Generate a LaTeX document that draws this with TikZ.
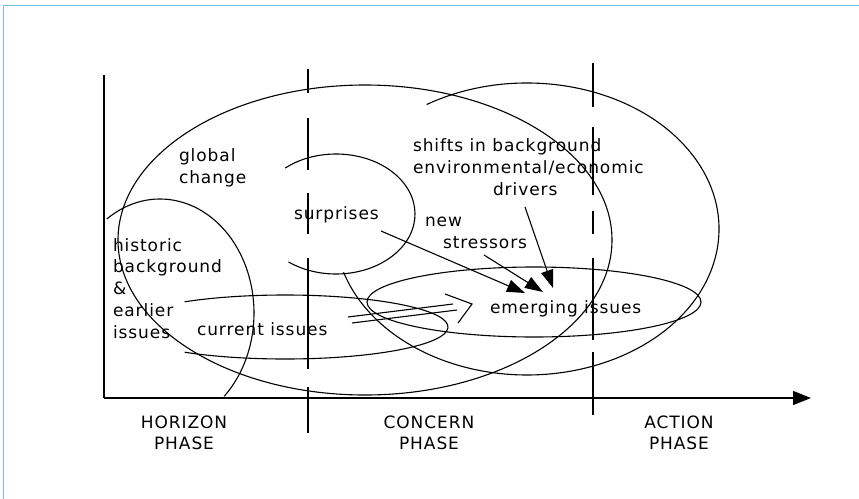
\documentclass[tikz,border=0pt]{standalone}
\usepackage{fontspec}
\setmainfont{DejaVu Sans}[LetterSpace=5.5]
\usetikzlibrary{arrows.meta}
\definecolor{frameblue}{RGB}{112,196,224}
\begin{document}
\begin{tikzpicture}[x=1pt,y=-1pt,
  lbl/.style={font=\fontsize{17}{21.7}\selectfont, inner sep=0pt, outer sep=0pt, align=left},
  phase/.style={font=\fontsize{17}{21}\selectfont, inner sep=0pt, outer sep=0pt, align=center, anchor=base},
  curve/.style={line width=1.1pt, black},
  pointer/.style={line width=1.1pt, black, -{Triangle[length=18pt,width=12.5pt]}},
  axis/.style={line width=1.2pt, black}
]
\useasboundingbox (0,0) rectangle (859,498);
\fill[white] (0,0) rectangle (859,498);
% light blue frame (top and left edges)
\draw[frameblue, line width=1.5pt] (3.5,510) -- (3.5,5.5) -- (870,5.5);

% axes
\coordinate (origin) at (104,398);
\coordinate (ytop) at (104,75);
\coordinate (xend) at (811,398);
\draw[axis] (ytop) -- (origin);
\draw[axis, -{Triangle[length=18pt,width=14pt]}] (origin) -- (xend);

% phase dividers
\coordinate (d1top) at (308,69);
\coordinate (d1bot) at (308,433);
\coordinate (d2top) at (593,63);
\coordinate (d2bot) at (593,415);
\draw[curve, dash pattern=on 24pt off 25pt on 52pt off 23pt on 41pt off 24pt on 111pt off 18pt on 46pt off 10pt] (d1top) -- (d1bot);
\draw[curve, dash pattern=on 44pt off 20pt on 68pt off 16pt on 23pt off 24pt on 82pt off 12pt on 63pt off 10pt] (d2top) -- (d2bot);

% global change
\draw[curve] (365,240) ellipse[x radius=247, y radius=155];
% historic background
\draw[curve] (160,313) ++(-124.5:94 and 114) arc[start angle=-124.5, end angle=47, x radius=94, y radius=114];
% surprises
\draw[curve] (336,214) ++(-130:79 and 60) arc[start angle=-130, end angle=127, x radius=79, y radius=60];
% background drivers
\draw[curve] (527,229) ++(-121.5:192 and 146) arc[start angle=-121.5, end angle=162.8, x radius=192, y radius=146];
% current issues
\draw[curve] (285,327) ++(-128:163 and 32) arc[start angle=-128, end angle=128, x radius=163, y radius=32];
% emerging issues
\draw[curve] (534,302) ellipse[x radius=167, y radius=35];

% labels (multi-line nodes sit on the baseline of their last line)
\node[lbl, anchor=base west] (global) at (179,183) {global\\change};
\node[lbl, anchor=base west] (surprises) at (294,219) {surprises};
\node[lbl, anchor=base west] (historic) at (113,338) {historic\\background\\\&\\earlier\\issues};
\node[lbl, anchor=base west] (current) at (197,335) {current issues};
\node[lbl, anchor=base west] (stressors) at (425,248) {new\\\hspace*{18pt}stressors};
\node[lbl, anchor=base west] (emerging) at (490,313) {emerging issues};
\node[lbl, anchor=base west] (drivers) at (413,195) {shifts in background\\environmental/economic\\\hspace*{80pt}drivers};

\node[phase] (horizon) at (184,449) {HORIZON\\PHASE};
\node[phase] (concern) at (429,449) {CONCERN\\PHASE};
\node[phase] (action) at (679,449) {ACTION\\PHASE};

% pointers into emerging issues
\coordinate (p1s) at (381,231);
\coordinate (p1e) at (525,293);
\coordinate (p2s) at (484,255);
\coordinate (p2e) at (543,292);
\coordinate (p3s) at (525,207);
\coordinate (p3e) at (553,288);
\draw[pointer] (p1s) -- (p1e);
\draw[pointer] (p2s) -- (p2e);
\draw[pointer] (p3s) -- (p3e);

% hollow double arrow from current to emerging issues
\coordinate (da1s) at (348,317);
\coordinate (da1e) at (453,304);
\coordinate (da2s) at (352,323);
\coordinate (da2e) at (457,310);
\coordinate (chA) at (445,294);
\coordinate (chT) at (472,304);
\coordinate (chB) at (458,323);
\draw[curve] (da1s) -- (da1e);
\draw[curve] (da2s) -- (da2e);
\draw[curve] (chA) -- (chT) -- (chB);
\end{tikzpicture}
\end{document}
